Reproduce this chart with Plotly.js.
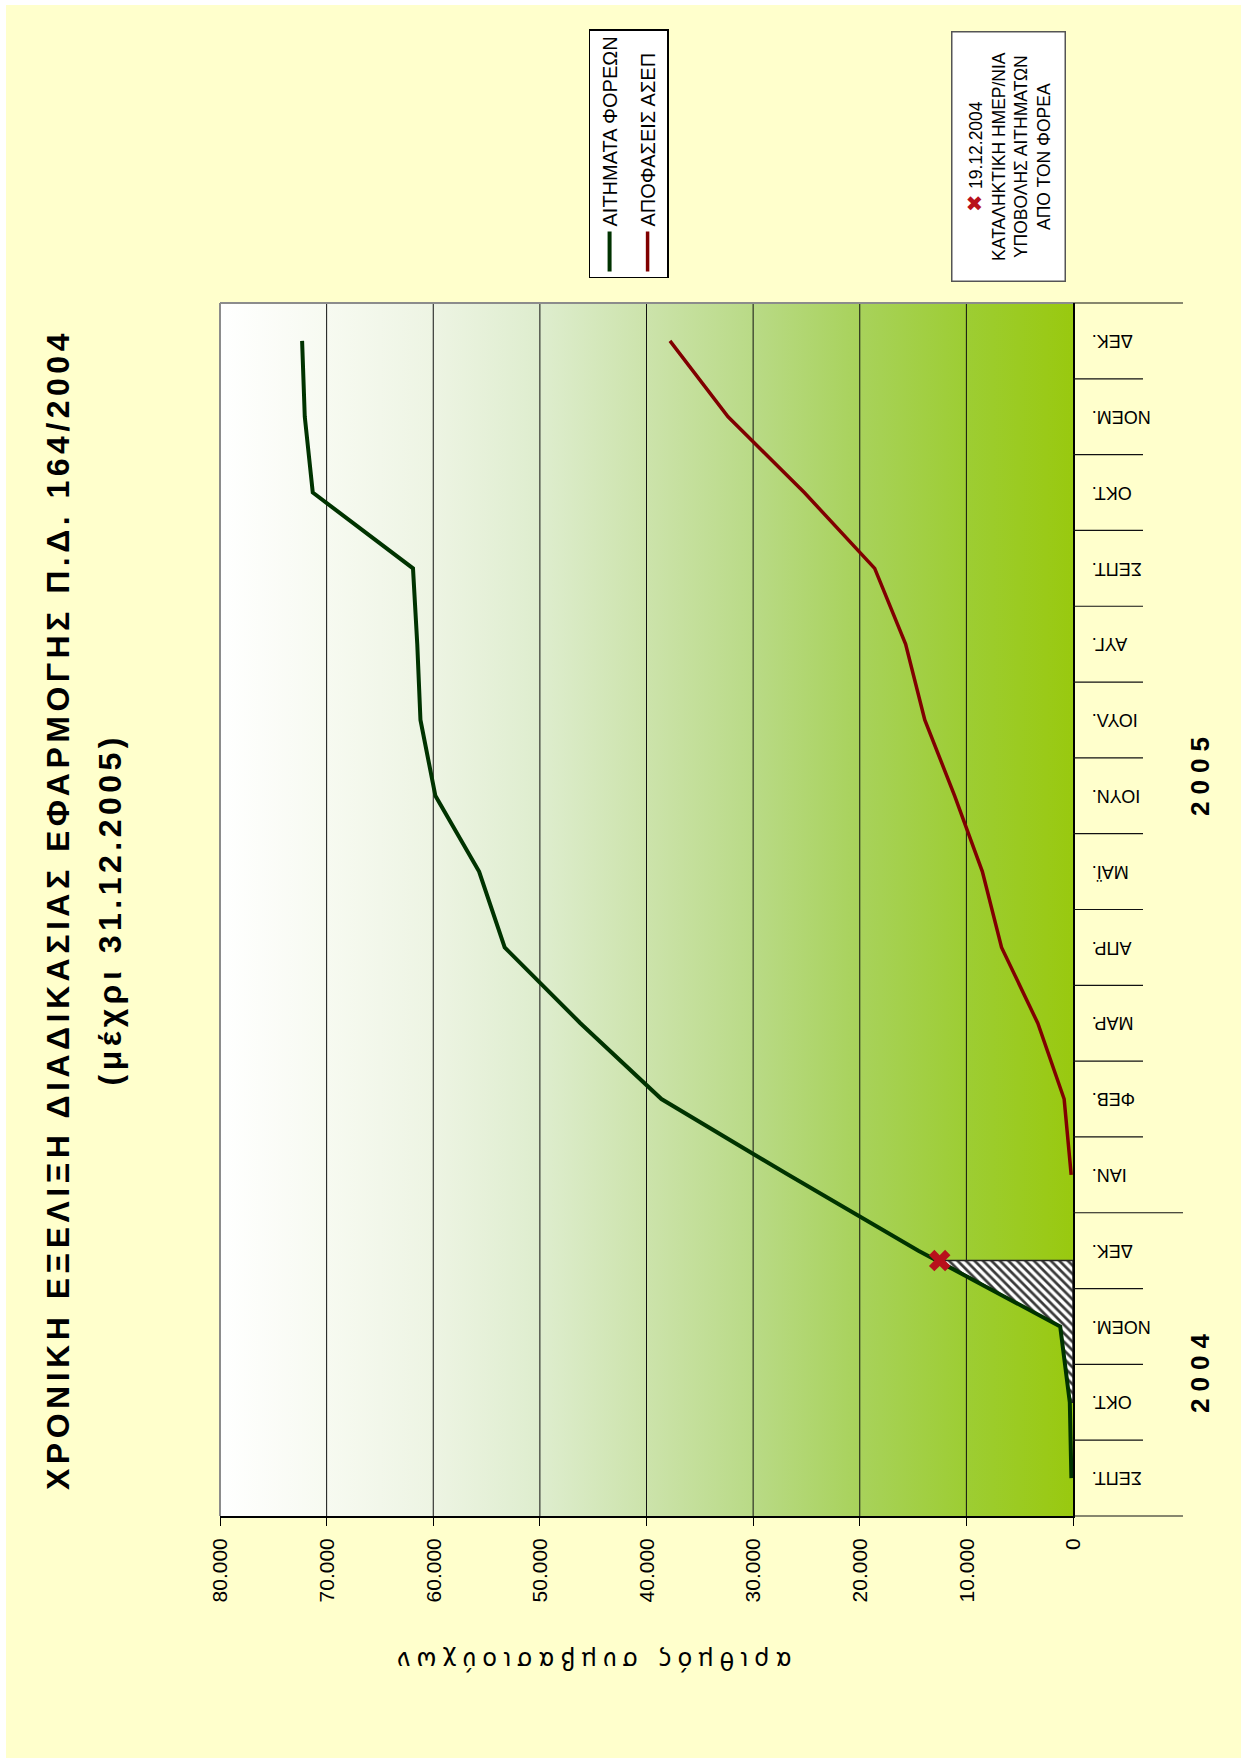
<!DOCTYPE html>
<html>
<head>
<meta charset="utf-8">
<script src="https://cdn.plot.ly/plotly-3.0.1.min.js"></script>
<style>
html,body{margin:0;padding:0;background:#ffffff;width:1241px;height:1758px;overflow:hidden}
#chart{position:absolute;left:0;top:0;width:1753px;height:1235px;transform-origin:0 0;transform:translate(6px,1758px) rotate(-90deg);}
.gtitle{letter-spacing:4.5px}
.annotation[data-index="0"] .annotation-text{letter-spacing:4.5px}
.annotation[data-index="1"] .annotation-text{letter-spacing:7px}
.annotation[data-index="2"] .annotation-text{letter-spacing:7px}
.annotation[data-index="3"] .annotation-text{letter-spacing:6px}
</style>
</head>
<body>
<div id="chart"></div>
<script>
// ---- data ----
const months = ['ΣΕΠΤ.','ΟΚΤ.','ΝΟΕΜ.','ΔΕΚ.','ΙΑΝ.','ΦΕΒ.','ΜΑΡ.','ΑΠΡ.','ΜΑΪ.','ΙΟΥΝ.','ΙΟΥΛ.','ΑΥΓ.','ΣΕΠΤ.','ΟΚΤ.','ΝΟΕΜ.','ΔΕΚ.'];
const monthYears = ['2004','2004','2004','2004','2005','2005','2005','2005','2005','2005','2005','2005','2005','2005','2005','2005'];
const requests  = [150, 300, 1200, 14500, 26700, 38600, 46200, 53300, 55700, 59800, 61200, 61500, 61900, 71300, 72050, 72300];
const decisions = [null, null, null, null, 170, 830, 3300, 6700, 8500, 11100, 13900, 15700, 18600, 25200, 32350, 37800];
const seriesNames = ['ΑΙΤΗΜΑΤΑ ΦΟΡΕΩΝ', 'ΑΠΟΦΑΣΕΙΣ ΑΣΕΠ'];
const deadlinePos = 2.87;      // 19.12.2004 on the month axis
const deadlineValue = 12500;
const hatchFrom = 1;           // hatched area starts at ΟΚΤ. 2004
const yTicks = [0, 10000, 20000, 30000, 40000, 50000, 60000, 70000, 80000];
const titleText = 'ΧΡΟΝΙΚΗ ΕΞΕΛΙΞΗ ΔΙΑΔΙΚΑΣΙΑΣ ΕΦΑΡΜΟΓΗΣ Π.Δ. 164/2004';
const subtitleText = '(μέχρι 31.12.2005)';
const yTitleText = 'αριθμός συμβασιούχων';
const noteText = '<span style="color:#B8101C;font-size:21px">✖</span> 19.12.2004<br>ΚΑΤΑΛΗΚΤΙΚΗ ΗΜΕΡ/ΝΙΑ<br>ΥΠΟΒΟΛΗΣ ΑΙΤΗΜΑΤΩΝ<br>ΑΠΟ ΤΟΝ ΦΟΡΕΑ';

// ---- derived ----
const idx = months.map((m, i) => i);
const xMin = -0.5, xMax = months.length - 0.5;
const yMax = yTicks[yTicks.length - 1];

const sans = '"Liberation Sans", Arial, sans-serif';
const dejavu = '"DejaVu Sans", sans-serif';

const bgScale = [[0,'#99C90F'],[0.125,'#9DCD33'],[0.25,'#A8D25B'],[0.375,'#B9DA86'],[0.5,'#CCE3AB'],[0.625,'#DEEDCE'],[0.75,'#EDF4E3'],[0.875,'#F7FAF1'],[1,'#FFFFFF']];

const bgTrace = {
  type:'scatter', x:[xMin,xMax,xMax,xMin,xMin], y:[0,0,yMax,yMax,0],
  mode:'none', fill:'toself', fillgradient:{type:'vertical', colorscale:bgScale},
  hoverinfo:'skip', showlegend:false
};

const gx = [], gy = [];
yTicks.filter(v => v > 0 && v < yMax).forEach(v => { gx.push(xMin, xMax, null); gy.push(v, v, null); });
const gridTrace = {type:'scatter', mode:'lines', x:gx, y:gy, line:{color:'#111', width:1}, hoverinfo:'skip', showlegend:false};

const hx = [deadlinePos], hy = [deadlineValue];
for (let i = Math.floor(deadlinePos); i >= hatchFrom; i--) { hx.push(i); hy.push(requests[i]); }
hx.push(hatchFrom, deadlinePos, deadlinePos); hy.push(0, 0, deadlineValue);
const hatchTrace = {
  type:'scatter', mode:'lines', x:hx, y:hy, fill:'toself', fillcolor:'white',
  fillpattern:{shape:'/', fgcolor:'#3a3a3a', bgcolor:'#ffffff', size:6, solidity:0.45},
  line:{color:'#222', width:1.5}, hoverinfo:'skip', showlegend:false
};

const greenTrace = {type:'scatter', mode:'lines', name:seriesNames[0], legendgroup:'a', x:idx, y:requests, line:{color:'#003300', width:4}};
const redTrace = {type:'scatter', mode:'lines', name:seriesNames[1], legendgroup:'b', x:idx, y:decisions, line:{color:'#800000', width:3.5}, connectgaps:false};
const markTrace = {type:'scatter', mode:'markers', x:[deadlinePos], y:[deadlineValue], marker:{symbol:'x', size:19, color:'#B8101C', line:{width:0}}, showlegend:false, hoverinfo:'skip'};

// month tick lines (between categories), longer at year boundaries
const shapes = [];
for (let i = 0; i <= months.length; i++) {
  const b = i - 0.5;
  const yearEdge = (i === 0 || i === months.length || monthYears[i] !== monthYears[i-1]);
  const len = yearEdge ? 110 : 70;
  const px = (b - xMin) / (xMax - xMin);
  shapes.push({type:'line', xref:'paper', yref:'paper', x0:px, x1:px, y0:0, y1:-len/853.1, line:{color:'#111', width:1.2}});
}
// grey plot border (top / right of the plot area)
shapes.push({type:'line', xref:'paper', yref:'paper', x0:0, x1:1, y0:1, y1:1, line:{color:'#8c8c8c', width:2}});
shapes.push({type:'line', xref:'paper', yref:'paper', x0:1, x1:1, y0:0, y1:1, line:{color:'#8c8c8c', width:2}});

// year labels centred under their months
const yearNames = [...new Set(monthYears)];
const yearShift = [-6, -15];
const yearAnns = yearNames.map((y, k) => {
  const ii = idx.filter(i => monthYears[i] === y);
  return {xref:'x', yref:'paper', x:(ii[0] + ii[ii.length-1]) / 2, y:-0.1485, xshift:yearShift[k], text:y, showarrow:false,
          xanchor:'center', yanchor:'middle', font:{family:sans, size:26, weight:'bold', color:'#000'}};
});

const layout = {
  width:1753, height:1235, autosize:false,
  paper_bgcolor:'#FFFFCC', plot_bgcolor:'rgba(0,0,0,0)',
  margin:{l:242.4, r:297.7, t:213.7, b:168.2, pad:0, autoexpand:false},
  separators:',.',
  font:{family:sans, color:'#000'},
  title:{text:titleText, x:0.5, xref:'paper', xanchor:'center', y:1 - 52/1235, yref:'container', yanchor:'middle',
         font:{family:sans, size:32, weight:'bold', color:'#000'}},
  xaxis:{range:[xMin, xMax], tickmode:'array', tickvals:idx, ticktext:months, tickangle:-90, ticks:'',
         showline:true, linecolor:'#000', linewidth:1.5, showgrid:false, zeroline:false,
         tickfont:{family:sans, size:18, color:'#000'}, ticklabelstandoff:10, fixedrange:true},
  yaxis:{range:[0, yMax], tickmode:'array', tickvals:yTicks, tickformat:',', ticks:'outside', ticklen:8, tickwidth:1, tickcolor:'#000',
         showline:true, linecolor:'#000', linewidth:2, showgrid:false, zeroline:false,
         tickfont:{family:sans, size:21, color:'#000'}, ticklabelstandoff:8, fixedrange:true},
  showlegend:true,
  legend:{x:1.0206, y:0.5679, xanchor:'left', yanchor:'top', bgcolor:'#ffffff', bordercolor:'#000', borderwidth:1.5,
          font:{family:sans, size:20, color:'#000'}, traceorder:'grouped', tracegroupgap:9, itemwidth:40},
  shapes:shapes,
  annotations:[
    {xref:'paper', yref:'paper', x:0.5, y:1.1286, text:subtitleText, showarrow:false, xanchor:'center', yanchor:'middle',
     font:{family:sans, size:32, weight:'bold', color:'#000'}},
    ...yearAnns,
    {xref:'paper', yref:'paper', x:-0.119, y:0.5642, text:yTitleText, textangle:-90, showarrow:false, xanchor:'center', yanchor:'middle',
     font:{family:dejavu, size:24, color:'#000'}},
    {xref:'paper', yref:'paper', x:1.1207, y:0.0751, text:noteText, showarrow:false, xanchor:'center', yanchor:'middle', align:'center',
     width:240, height:104, borderpad:4, bordercolor:'#555', borderwidth:1.5, bgcolor:'#ffffff',
     font:{family:sans, size:17.5, color:'#000'}}
  ]
};

Plotly.newPlot('chart', [bgTrace, gridTrace, hatchTrace, greenTrace, redTrace, markTrace], layout, {staticPlot:true, displayModeBar:false});
</script>
</body>
</html>
